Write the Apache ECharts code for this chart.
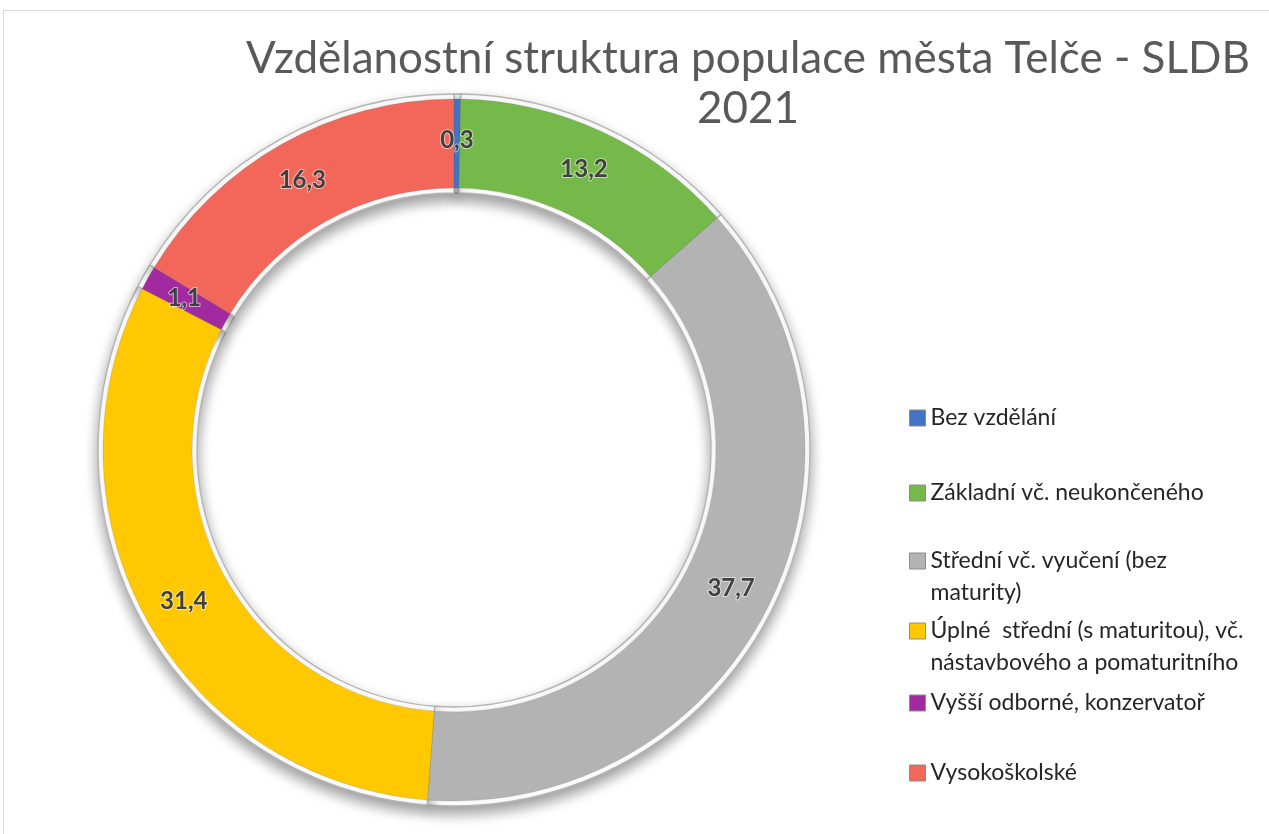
<!DOCTYPE html>
<html>
<head>
<meta charset="utf-8">
<script src="https://cdn.jsdelivr.net/npm/echarts@6/dist/echarts.min.js"></script>
<style>
  html, body { margin: 0; padding: 0; background: #fff; }
  #frame { position: absolute; left: 3px; top: 10px; width: 1300px; height: 900px; border: 1px solid #d9d9d9; }
  #chart { position: absolute; left: 0; top: 0; width: 1269px; height: 834px; }
</style>
</head>
<body>
<div id="frame"></div>
<div id="chart"></div>
<script>
// kategorie a hodnoty (%)
const categories = [
  'Bez vzdělání',
  'Základní vč. neukončeného',
  'Střední vč. vyučení (bez maturity)',
  'Úplné  střední (s maturitou), vč. nástavbového a pomaturitního',
  'Vyšší odborné, konzervatoř',
  'Vysokoškolské'
]
const values = [0.3, 13.2, 37.7, 31.4, 1.1, 16.3]
const colors = ['#4472C4', '#76B94B', '#B3B3B3', '#FFC800', '#A22AA0', '#F2675A']

// zalomeni legendy jako v originale (prazdny prvni radek drzi ikonu u prvniho radku textu)
const legendText = {
  'Střední vč. vyučení (bez maturity)': '\nStřední vč. vyučení (bez\nmaturity)',
  'Úplné  střední (s maturitou), vč. nástavbového a pomaturitního': '\nÚplné  střední (s maturitou), vč.\nnástavbového a pomaturitního'
}
const legendCenters = [413, 488, 556, 626, 698, 768]

const font = 'Lato, "Noto Sans", sans-serif'
const lineH = 32

let myChart = echarts.init(document.getElementById('chart'))

let legends = categories.map((name, i) => {
  let twoLines = !!legendText[name]
  return {
    data: [name],
    orient: 'vertical',
    left: 904,
    top: twoLines ? legendCenters[i] - lineH * 1.5 : legendCenters[i] - lineH / 2,
    icon: 'rect',
    itemWidth: 16,
    itemHeight: 16,
    itemGap: 0,
    selectedMode: false,
    itemStyle: { borderColor: '#8c8c8c', borderWidth: 1 },
    formatter: n => legendText[n] || n,
    textStyle: {
      fontFamily: font,
      fontSize: 23,
      color: '#262626',
      lineHeight: lineH
    }
  }
})

myChart.setOption({
  color: colors,
  title: {
    text: 'Vzdělanostní struktura populace města Telče - SLDB\n2021',
    left: 743,
    top: 29,
    textAlign: 'center',
    textStyle: {
      fontFamily: font,
      fontSize: 44,
      fontWeight: 'normal',
      color: '#595959',
      lineHeight: 50
    }
  },
  legend: legends,
  series: [
    {
      type: 'pie',
      center: [454, 450],
      radius: [262, 351],
      startAngle: 90,
      z: 3,
      itemStyle: {
        borderColor: 'rgba(90,90,90,0.35)',
        borderWidth: 0.6
      },
      label: {
        show: true,
        position: 'inside',
        formatter: p => String(p.value).replace('.', ','),
        fontFamily: font,
        fontSize: 24,
        fontWeight: 'bold',
        color: '#404040',
        textBorderColor: 'rgba(255,255,255,0.55)',
        textBorderWidth: 2
      },
      labelLine: { show: false },
      emphasis: { scale: false },
      data: categories.map((name, i) => ({ name: name, value: values[i] }))
    },
    {
      // podklad: bily prstenec se sedym okrajem a stinem
      type: 'pie',
      center: [454, 450],
      radius: [257, 356],
      startAngle: 90,
      z: 1,
      silent: true,
      legendHoverLink: false,
      label: { show: false },
      labelLine: { show: false },
      itemStyle: {
        color: '#ffffff',
        borderColor: '#b5b5b5',
        borderWidth: 1.4,
        shadowBlur: 14,
        shadowOffsetY: 7,
        shadowColor: 'rgba(0,0,0,0.4)'
      },
      data: categories.map((name, i) => ({ name: name, value: values[i] }))
    }
  ]
})
</script>
</body>
</html>
